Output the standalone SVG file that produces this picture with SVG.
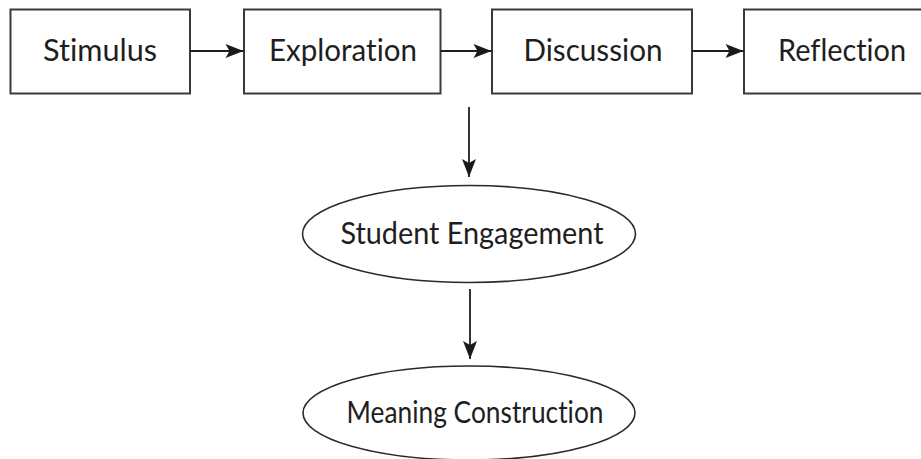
<svg xmlns="http://www.w3.org/2000/svg" width="921" height="459" viewBox="0 0 921 459">
  <defs>
    <marker id="arrow" markerUnits="userSpaceOnUse" markerWidth="22" markerHeight="18" viewBox="-20 -9 22 18" refX="0" refY="0" orient="auto">
      <path d="M0,0 L-18,-7 L-14,0 L-18,7 Z" fill="#1a1a1a"/>
    </marker>
  </defs>
  <style>
    .box { fill: #ffffff; stroke: #3a3a3a; stroke-width: 2; }
    .oval { fill: #ffffff; stroke: #2a2a2a; stroke-width: 1.6; }
    .label { font-family: Lato, "Open Sans", "DejaVu Sans", sans-serif; font-size: 31.5px; fill: #1e1e1e; text-anchor: middle; font-variant-ligatures: none; }
    .edge { stroke: #1e1e1e; stroke-width: 1.8; fill: none; marker-end: url(#arrow); }
  </style>
  <rect width="921" height="459" fill="#ffffff"/>

  <g id="stimulus">
    <rect class="box" x="10.5" y="9.5" width="179.5" height="84"/>
    <text class="label" x="100" y="61" textLength="114" lengthAdjust="spacingAndGlyphs">Stimulus</text>
  </g>
  <g id="exploration">
    <rect class="box" x="244" y="9.5" width="196.5" height="84"/>
    <text class="label" x="343" y="61" textLength="148" lengthAdjust="spacingAndGlyphs">Exploration</text>
  </g>
  <g id="discussion">
    <rect class="box" x="492" y="9.5" width="200" height="84"/>
    <text class="label" x="593" y="61" textLength="139" lengthAdjust="spacingAndGlyphs">Discussion</text>
  </g>
  <g id="reflection">
    <rect class="box" x="744" y="9.5" width="190" height="84"/>
    <text class="label" x="842" y="61" textLength="128" lengthAdjust="spacingAndGlyphs">Reflection</text>
  </g>
  <g id="student-engagement">
    <ellipse class="oval" cx="469" cy="234" rx="166.5" ry="48.5"/>
    <text class="label" x="472" y="244" textLength="263" lengthAdjust="spacingAndGlyphs">Student Engagement</text>
  </g>
  <g id="meaning-construction">
    <ellipse class="oval" cx="469" cy="413" rx="166" ry="47"/>
    <text class="label" x="475" y="423" textLength="257" lengthAdjust="spacingAndGlyphs">Meaning Construction</text>
  </g>

  <g id="connectors">
    <line class="edge" x1="190" y1="51" x2="243.5" y2="51"/>
    <line class="edge" x1="440.5" y1="51" x2="491.5" y2="51"/>
    <line class="edge" x1="692" y1="51" x2="743.5" y2="51"/>
    <line class="edge" x1="469" y1="107" x2="469" y2="177"/>
    <line class="edge" x1="470" y1="289" x2="470" y2="359"/>
  </g>
</svg>
